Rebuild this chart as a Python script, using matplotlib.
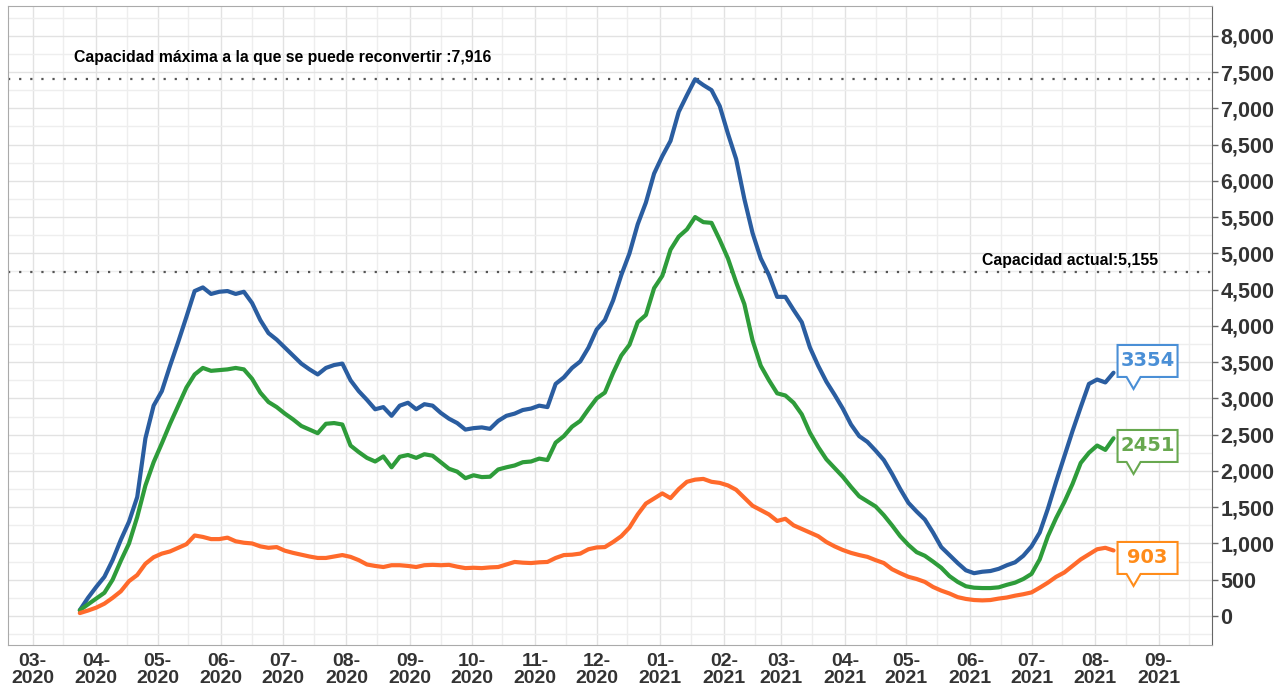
"""
Ocupación hospitalaria COVID-19: tres series con capacidad de referencia
"""

import matplotlib
matplotlib.use('Agg')
import matplotlib.pyplot as plt
import matplotlib.dates as mdates
import matplotlib.transforms as mtransforms
from matplotlib.patches import Polygon
from matplotlib.ticker import MultipleLocator, FuncFormatter
import pandas as pd

plt.rcParams['font.family'] = ['Liberation Sans', 'DejaVu Sans']

# one reading every 4 days, 24-mar-2020 .. 10-ago-2021
dates = pd.date_range('2020-03-24', periods=127, freq='4D')

blue = [80, 250, 400, 540, 770, 1050, 1300, 1640, 2450, 2900,
        3100, 3450, 3780, 4125, 4480, 4530, 4440, 4470, 4480, 4440,
        4470, 4315, 4080, 3900, 3810, 3700, 3590, 3480, 3400, 3330,
        3420, 3460, 3480, 3250, 3100, 2980, 2850, 2880, 2760, 2900,
        2940, 2850, 2920, 2900, 2800, 2720, 2660, 2570, 2590, 2600,
        2580, 2690, 2760, 2790, 2840, 2860, 2900, 2880, 3200, 3290,
        3420, 3510, 3700, 3950, 4080, 4350, 4700, 5000, 5400, 5700,
        6100, 6340, 6550, 6950, 7180, 7400, 7320, 7250, 7030, 6650,
        6300, 5750, 5280, 4930, 4700, 4400, 4400, 4220, 4050, 3700,
        3450, 3230, 3050, 2860, 2640, 2480, 2400, 2280, 2150, 1960,
        1750, 1560, 1440, 1330, 1150, 950, 840, 730, 630, 590,
        610, 620, 650, 700, 740, 830, 960, 1150, 1480, 1850,
        2200, 2550, 2880, 3200, 3260, 3220, 3354]

green = [80, 160, 240, 320, 500, 760, 1000, 1365, 1800, 2120,
         2380, 2650, 2900, 3150, 3330, 3420, 3380, 3390, 3400, 3420,
         3400, 3270, 3080, 2950, 2880, 2790, 2710, 2620, 2570, 2520,
         2650, 2660, 2640, 2350, 2260, 2180, 2130, 2200, 2050, 2195,
         2220, 2180, 2230, 2210, 2120, 2030, 1990, 1900, 1940, 1915,
         1920, 2020, 2050, 2075, 2120, 2130, 2170, 2150, 2390, 2480,
         2610, 2690, 2850, 3000, 3080, 3350, 3590, 3740, 4050, 4150,
         4520, 4690, 5050, 5230, 5330, 5500, 5430, 5420, 5185, 4930,
         4600, 4300, 3800, 3450, 3250, 3070, 3040, 2940, 2780, 2525,
         2330, 2160, 2040, 1920, 1780, 1650, 1580, 1510, 1390, 1250,
         1100, 980, 880, 830, 750, 665, 550, 470, 410, 390,
         385, 385, 395, 430, 460, 510, 580, 780, 1100, 1350,
         1570, 1820, 2110, 2250, 2350, 2290, 2451]

orange = [40, 75, 115, 170, 250, 340, 480, 565, 720, 810,
          860, 890, 940, 990, 1110, 1090, 1060, 1060, 1080, 1030,
          1010, 1000, 960, 940, 950, 900, 870, 845, 820, 800,
          800, 820, 840, 815, 770, 710, 690, 675, 700, 700,
          690, 675, 700, 705, 700, 705, 680, 660, 665, 660,
          670, 675, 710, 745, 735, 730, 740, 745, 800, 840,
          845, 860, 920, 945, 950, 1020, 1100, 1220, 1400, 1550,
          1620, 1690, 1625, 1750, 1850, 1880, 1890, 1850, 1835, 1800,
          1740, 1630, 1520, 1460, 1400, 1310, 1340, 1250, 1200, 1150,
          1100, 1020, 960, 910, 870, 840, 815, 770, 730, 645,
          590, 540, 510, 470, 400, 350, 310, 260, 235, 220,
          215, 220, 240, 255, 280, 300, 325, 390, 460, 540,
          600, 690, 780, 850, 920, 940, 903]

end_labels = ['3354', '2451', '903']
cap_max_text = 'Capacidad máxima a la que se puede reconvertir :7,916'
cap_now_text = 'Capacidad actual:5,155'

# colours
line_colors = ['#2a5da0', '#2e9c3a', '#ff6a2b']
label_colors = ['#4a8fd6', '#68a84f', '#ff8c1a']
label_levels = [3516, 2344, 800]   # centre of each callout box
cap_max_level = 7405
cap_now_level = 4745

fig = plt.figure(figsize=(12.78, 6.86), dpi=100)
ax = fig.add_axes([8/1278, 41/686, 1204/1278, 639/686])

for vals, c in zip([blue, green, orange], line_colors):
    ax.plot(dates, vals, color=c, linewidth=3, solid_joinstyle='round',
            solid_capstyle='round', zorder=3)

# capacity reference lines
for lev in [cap_max_level, cap_now_level]:
    ax.axhline(lev, color='#555555', linewidth=1.6, linestyle=(0, (1, 4)), zorder=2)
ax.text(pd.Timestamp('2020-03-21'), 7695, cap_max_text, fontsize=11.4,
        fontweight='bold', color='black', va='center', ha='left')
ax.text(pd.Timestamp('2021-06-07'), 4895, cap_now_text, fontsize=11.4,
        fontweight='bold', color='black', va='center', ha='left')

# callout boxes at the end of each series
xend = mdates.date2num(dates[-1])
shape = [(0.04, 0.16), (0.64, 0.16), (0.64, -0.16), (0.27, -0.16),
         (0.20, -0.28), (0.13, -0.16), (0.04, -0.16)]
for txt, lev, c in zip(end_labels, label_levels, label_colors):
    trans = fig.dpi_scale_trans + mtransforms.ScaledTranslation(xend, lev, ax.transData)
    ax.add_patch(Polygon(shape, closed=True, facecolor='white', edgecolor=c,
                         linewidth=1.5, transform=trans, clip_on=False, zorder=5))
    ax.text(0.34, 0.0, txt, transform=trans, ha='center', va='center',
            fontsize=14, fontweight='bold', color=c, family='DejaVu Sans', zorder=6)

# axes format
ax.set_xlim(pd.Timestamp('2020-02-18'), pd.Timestamp('2021-09-27'))
ax.set_ylim(-400, 8410)
ax.xaxis.set_major_locator(mdates.MonthLocator())
ax.xaxis.set_minor_locator(mdates.MonthLocator(bymonthday=16))
ax.xaxis.set_major_formatter(mdates.DateFormatter('%m-\n%Y'))
ax.yaxis.tick_right()
ax.yaxis.set_major_locator(MultipleLocator(500))
ax.yaxis.set_minor_locator(MultipleLocator(250))
ax.yaxis.set_major_formatter(FuncFormatter(lambda v, p: f'{int(v):,}'))
ax.set_yticks([v for v in range(0, 8001, 500)])

ax.grid(which='major', color='#e2e2e2', linewidth=1)
ax.grid(which='minor', color='#eeeeee', linewidth=1)
ax.set_axisbelow(True)

ax.tick_params(axis='x', which='both', length=0, pad=6, labelsize=14, labelcolor='#333333')
ax.tick_params(axis='y', which='major', length=4, width=1, color='#666666', pad=2,
               labelsize=15.5, labelcolor='#333333')
ax.tick_params(axis='y', which='minor', length=0)
for lab in ax.get_xticklabels() + ax.get_yticklabels():
    lab.set_fontweight('bold')
for lab in ax.get_xticklabels():
    lab.set_linespacing(0.95)

for side in ['left', 'top', 'bottom']:
    ax.spines[side].set_color('#aaaaaa')
ax.spines['right'].set_color('#666666')

fig.savefig('out.png', dpi=100)
